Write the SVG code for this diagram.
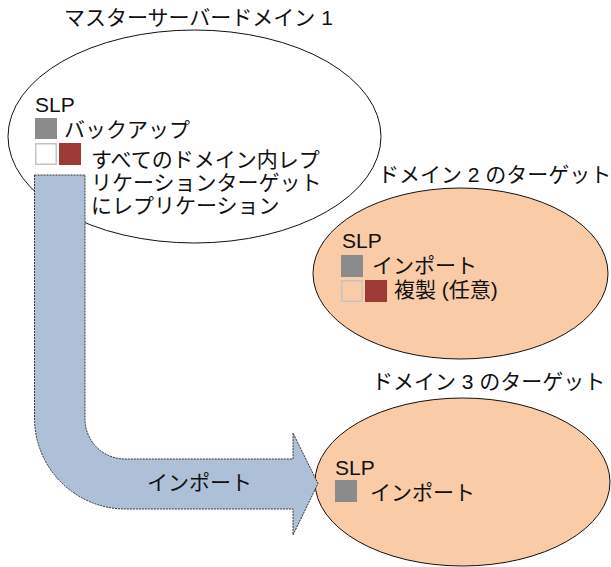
<svg xmlns="http://www.w3.org/2000/svg" width="611" height="567" viewBox="0 0 611 567">
<style>
text{font-family:"Liberation Sans","Noto Sans CJK JP",sans-serif;font-size:21px;fill:#111}
.ell{stroke:#111;stroke-width:1}
.peach{fill:#f9cba7}
.gray{fill:#8b8b8b}
.red{fill:#9e3a35}
.empty{fill:none;stroke:#c4c4c4;stroke-width:1.5}
.arrow{fill:#aec0d8;stroke:#333;stroke-width:1;stroke-dasharray:2 1}
</style>
<rect width="611" height="567" fill="#fff"/>
<g id="master">
<text x="64" y="25">マスターサーバードメイン 1</text>
<ellipse class="ell" cx="194.5" cy="136.5" rx="186.5" ry="106.5" fill="#fff"/>
<text x="35" y="112">SLP</text>
<rect class="gray" x="35" y="118" width="22" height="21"/>
<text x="64" y="137">バックアップ</text>
<rect class="empty" x="35.75" y="143.75" width="20.5" height="20.5"/>
<rect class="red" x="59" y="143" width="22" height="22"/>
<text x="91" y="167">すべてのドメイン内レプ</text>
<text x="91" y="190">リケーションターゲット</text>
<text x="91" y="213">にレプリケーション</text>
</g>
<g id="domain2">
<text x="378" y="182">ドメイン 2 のターゲット</text>
<ellipse class="ell peach" cx="460.5" cy="273.5" rx="147.5" ry="85.5"/>
<text x="342" y="248">SLP</text>
<rect class="gray" x="341" y="255" width="22" height="22"/>
<text x="372" y="273">インポート</text>
<rect class="empty" x="341.75" y="280.75" width="20.5" height="20.5"/>
<rect class="red" x="365" y="280" width="22" height="22"/>
<text x="394" y="297">複製 (任意)</text>
</g>
<g id="domain3">
<text x="372" y="389">ドメイン 3 のターゲット</text>
<ellipse class="ell peach" cx="462.5" cy="482" rx="147.5" ry="84"/>
<text x="335" y="475">SLP</text>
<rect class="gray" x="335" y="480" width="22" height="22"/>
<text x="370" y="500">インポート</text>
</g>
<g id="connectors">
<path class="arrow" d="M34.5,175 H85 V418 A40,40 0 0 0 125,459 H293 V433 L318,483.5 L293,535 V509 H125 A91,91 0 0 1 34.5,418 Z"/>
<text x="147" y="490">インポート</text>
</g>
</svg>
